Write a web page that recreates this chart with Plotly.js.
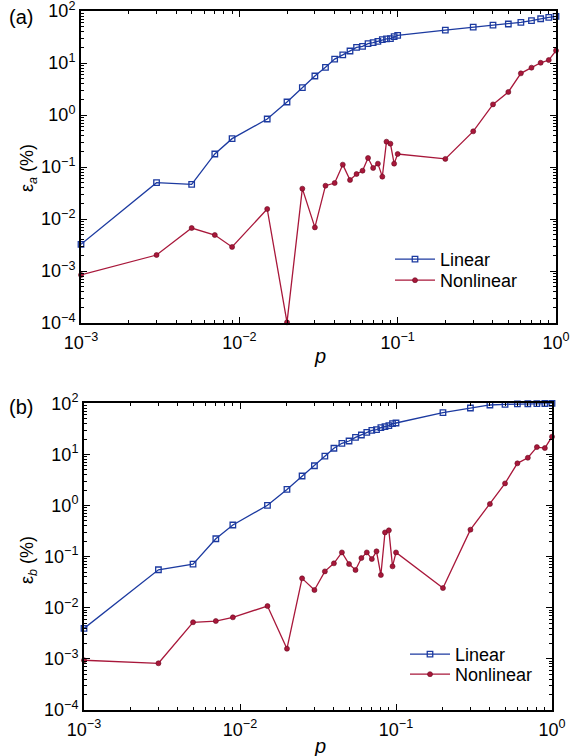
<!DOCTYPE html>
<html>
<head>
<meta charset="utf-8">
<script src="https://cdn.plot.ly/plotly-3.0.1.min.js"></script>
<style>html,body{margin:0;padding:0;background:#fff;}#chart{width:574px;height:756px;}</style>
</head>
<body>
<div id="chart"></div>
<script>
// ---- data ----
const p = [0.001,0.003,0.005,0.007,0.009,0.015,0.02,0.025,0.03,0.035,0.04,0.045,0.05,0.055,0.06,0.065,0.07,0.075,0.08,0.085,0.09,0.095,0.1,0.2,0.3,0.4,0.5,0.6,0.7,0.8,0.9,1.0];
const linearA = [0.00326,0.050,0.0465,0.178,0.351,0.838,1.78,3.36,5.62,8.25,11.9,14.3,17.0,20.0,20.9,23.5,24.6,26.1,28.1,29.0,29.3,32.1,34.0,43.0,48.8,53.6,56.2,60.5,65.2,71.0,75.2,78.9];
const nonlinearA = [0.00084,0.00203,0.00671,0.00492,0.0029,0.01557,0.000103,0.0383,0.0069,0.0437,0.0492,0.111,0.0562,0.0733,0.0849,0.149,0.0957,0.116,0.0652,0.307,0.281,0.116,0.178,0.143,0.485,1.60,2.77,6.32,8.13,10.1,11.4,17.3];
const linearB = [0.00395,0.0554,0.0716,0.224,0.416,1.01,2.07,3.78,6.0,9.3,13.2,16.5,18.3,21.6,24.0,27.1,29.6,30.5,33.4,34.9,36.5,40.0,41.2,65.6,80.9,92.7,95.5,97.5,98.0,98.5,99.0,99.5];
const nonlinearB = [0.00094,0.00082,0.0052,0.0055,0.0065,0.0108,0.00158,0.0376,0.0222,0.0515,0.074,0.121,0.0716,0.0547,0.094,0.121,0.0897,0.127,0.0437,0.298,0.327,0.0646,0.121,0.0243,0.337,1.07,2.71,6.69,8.61,13.9,13.3,22.2];
const seriesNames = ["Linear","Nonlinear"];
const xTickVals = [0.001,0.01,0.1,1];
const xTickText = ["10<sup>\u22123</sup>","10<sup>\u22122</sup>","10<sup>\u22121</sup>","10<sup>0</sup>"];
const yTickVals = [0.0001,0.001,0.01,0.1,1,10,100];
const yTickText = ["10<sup>\u22124</sup>","10<sup>\u22123</sup>","10<sup>\u22122</sup>","10<sup>\u22121</sup>","10<sup>0</sup>","10<sup>1</sup>","10<sup>2</sup>"];

const FONT = "Liberation Sans, Arial, sans-serif";
const BLUE = "#1c3aa0";
const RED = "#a8173a";
const W = 574, H = 756;

function mk(x, y, name, xa, ya, legend, isLinear) {
  return {
    x: x, y: y, name: name, xaxis: xa, yaxis: ya, legend: legend,
    type: "scatter", mode: "lines+markers", cliponaxis: false, showlegend: true,
    line: {color: isLinear ? BLUE : RED, width: 1.3},
    marker: isLinear
      ? {symbol: "square-open", size: 5.5, color: BLUE, line: {width: 1.3, color: BLUE}}
      : {symbol: "circle", size: 5, color: RED, line: {width: 0.6, color: "#6a0a20"}}
  };
}

const traces = [
  mk(p, linearA, seriesNames[0], "x", "y", "legend", true),
  mk(p, nonlinearA, seriesNames[1], "x", "y", "legend2", false),
  mk(p, linearB, seriesNames[0], "x2", "y2", "legend3", true),
  mk(p, nonlinearB, seriesNames[1], "x2", "y2", "legend4", false)
];

function xax(domPx, anchor) {
  return {
    type: "log", range: [-3, 0], domain: [domPx[0]/W, domPx[1]/W], anchor: anchor,
    tickvals: xTickVals, ticktext: xTickText, tickmode: "array",
    ticks: "inside", ticklen: 6, tickwidth: 1, tickcolor: "#000",
    minor: {ticks: "inside", ticklen: 3, tickwidth: 1, tickcolor: "#000", dtick: "D1", showgrid: false},
    mirror: "allticks", showline: true, linecolor: "#000", linewidth: 2,
    showgrid: false, zeroline: false, ticklabeloverflow: "allow",
    tickfont: {family: FONT, size: 18, color: "#000"}, ticklabelstandoff: 2
  };
}
function yax(domPx, anchor) {
  return {
    type: "log", range: [-4, 2], domain: [1 - domPx[1]/H, 1 - domPx[0]/H], anchor: anchor,
    tickvals: yTickVals, ticktext: yTickText, tickmode: "array",
    ticks: "inside", ticklen: 6, tickwidth: 1, tickcolor: "#000",
    minor: {ticks: "inside", ticklen: 3, tickwidth: 1, tickcolor: "#000", dtick: "D1", showgrid: false},
    mirror: "allticks", showline: true, linecolor: "#000", linewidth: 2,
    showgrid: false, zeroline: false, ticklabeloverflow: "allow",
    tickfont: {family: FONT, size: 18, color: "#000"}, ticklabelstandoff: 0
  };
}

function leg(xPx, yTopPx) {
  return {
    x: xPx/W, y: 1 - yTopPx/H, xanchor: "left", yanchor: "top",
    bgcolor: "rgba(0,0,0,0)", borderwidth: 0,
    font: {family: FONT, size: 18, color: "#000"}, itemwidth: 40
  };
}

function ann(text, xPx, yPx, size, angle) {
  return {text: text, x: xPx/W, y: 1 - yPx/H, xref: "paper", yref: "paper",
    xanchor: "center", yanchor: "middle", showarrow: false, textangle: angle || 0,
    font: {family: FONT, size: size, color: "#000"}};
}

const layout = {
  width: W, height: H, margin: {l: 0, r: 0, t: 0, b: 0},
  paper_bgcolor: "#fff", plot_bgcolor: "#fff",
  showlegend: true,
  xaxis: xax([81, 556], "y"),
  yaxis: yax([11, 323], "x"),
  xaxis2: xax([84, 552], "y2"),
  yaxis2: yax([403.3, 710], "x2"),
  legend: leg(390, 241),
  legend2: leg(390, 262),
  legend3: leg(405, 636),
  legend4: leg(405, 656),
  annotations: [
    ann("(a)", 21, 17, 20),
    ann("(b)", 21, 407, 20),
    ann("\u03b5<sub><i>a</i></sub> (%)", 28, 168, 18, -90),
    ann("\u03b5<sub><i>b</i></sub> (%)", 28, 560, 18, -90),
    ann("<i>p</i>", 320, 356, 20),
    ann("<i>p</i>", 320, 746, 20)
  ]
};

Plotly.newPlot("chart", traces, layout, {staticPlot: true, displayModeBar: false});
</script>
</body>
</html>
